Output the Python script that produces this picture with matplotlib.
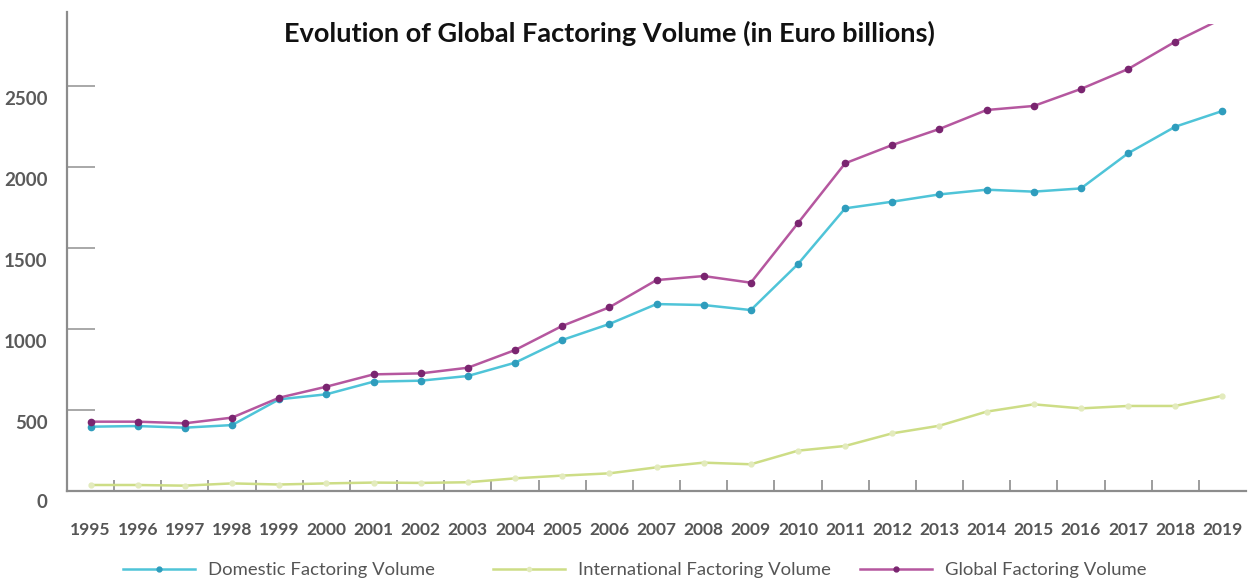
import matplotlib
matplotlib.use("Agg")
import matplotlib.pyplot as plt
import matplotlib.transforms as mtransforms
from matplotlib.patches import Rectangle
from matplotlib.lines import Line2D

years = [str(y) for y in range(1995, 2020)]
domestic = [397, 401, 391, 407, 566, 597, 675, 681, 710, 792, 932, 1031, 1154,
            1148, 1117, 1401, 1745, 1786, 1831, 1860, 1848, 1868, 2085, 2249, 2346]
international = [37, 37, 33, 47, 40, 47, 52, 50, 54, 78, 95, 109, 146,
                 175, 165, 249, 278, 356, 403, 490, 535, 510, 525, 525, 588]
global_vol = [428, 428, 418, 453, 576, 644, 720, 726, 761, 870, 1019, 1134, 1302,
              1327, 1286, 1654, 2023, 2136, 2235, 2352, 2377, 2482, 2605, 2774, 2917]
yticks = [500, 1000, 1500, 2000, 2500]
series_names = ["Domestic Factoring Volume", "International Factoring Volume",
                "Global Factoring Volume"]
title = "Evolution of Global Factoring Volume (in Euro billions)"

W, H = 1250, 580
fig = plt.figure(figsize=(W / 100, H / 100), dpi=100)
ax = fig.add_axes([67 / W, 89 / H, (1246 - 67) / W, (491 - 12) / H])

x = list(range(len(years)))
c_dom, c_dom_m = "#4fc4d8", "#2f9dbd"
c_int, c_int_m = "#cddd86", "#e3ebbd"
c_glo, c_glo_m = "#b5579f", "#7a2570"

ax.plot(x, international, color=c_int, lw=1.8, marker="o", ms=3.5,
        mfc=c_int_m, mec=c_int_m, zorder=3)
ax.plot(x, domestic, color=c_dom, lw=1.8, marker="o", ms=4.5,
        mfc=c_dom_m, mec=c_dom_m, zorder=4)
lg, = ax.plot(x, global_vol, color=c_glo, lw=1.8, marker="o", ms=4.5,
              mfc=c_glo_m, mec=c_glo_m, zorder=5)
clip = Rectangle((-1, -100), 30, 2980, transform=ax.transData)
lg.set_clip_path(clip)

ax.set_xlim(-0.5, 24.5)
ax.set_ylim(0, 2957)

for s in ["top", "right"]:
    ax.spines[s].set_visible(False)
for s in ["left", "bottom"]:
    ax.spines[s].set_color("#8c8c8c")
    ax.spines[s].set_linewidth(1.6)

tick_font = ["Lato", "DejaVu Sans"]
ax.set_yticks(yticks)
ax.set_yticklabels([str(v) for v in yticks], fontsize=13.5, color="#5a5a5a",
                   family=tick_font, fontweight="bold")
ax.tick_params(axis="y", direction="in", length=20, width=1.2, color="#9a9a9a",
               pad=14)
offset = mtransforms.ScaledTranslation(0, -0.12, fig.dpi_scale_trans)
for lab in ax.get_yticklabels():
    lab.set_transform(lab.get_transform() + offset)
zt = ax.text(0, 0, "0", fontsize=13.5, color="#5a5a5a", family=tick_font,
             fontweight="bold", ha="right", va="center",
             transform=ax.get_yaxis_transform()
             + mtransforms.ScaledTranslation(-0.20, -0.12, fig.dpi_scale_trans))

ax.set_xticks(x)
ax.set_xticklabels(years, fontsize=12.5, color="#555555", family=tick_font,
                   fontweight="bold")
ax.tick_params(axis="x", which="major", length=0, pad=22)
ax.set_xticks([i + 0.5 for i in range(len(years) - 1)], minor=True)
ax.tick_params(axis="x", which="minor", direction="in", length=8, width=1.2,
               color="#8c8c8c")

fig.text(609 / W, 1 - 33 / H, title, ha="center", va="center", fontsize=19.5,
         fontweight="bold", family=["Lato", "DejaVu Sans"],
         color="#111111")

handles = [
    Line2D([], [], color=c_dom, lw=1.8, marker="o", ms=3.5, mfc=c_dom_m, mec=c_dom_m),
    Line2D([], [], color=c_int, lw=1.8, marker="o", ms=3, mfc=c_int_m, mec=c_int_m),
    Line2D([], [], color=c_glo, lw=1.8, marker="o", ms=3.5, mfc=c_glo_m, mec=c_glo_m),
]
xpos = [123, 493, 860]
for h, name, xp in zip(handles, series_names, xpos):
    leg = fig.legend([h], [name], loc="center left",
                     bbox_to_anchor=(xp / W, 1 - 570 / H), frameon=False,
                     handlelength=3.9, handletextpad=0.7, borderpad=0,
                     borderaxespad=0, markerscale=1,
                     prop={"family": tick_font, "size": 13.3})
    for t in leg.get_texts():
        t.set_color("#555555")

fig.savefig("out.png", dpi=100, facecolor="white")
